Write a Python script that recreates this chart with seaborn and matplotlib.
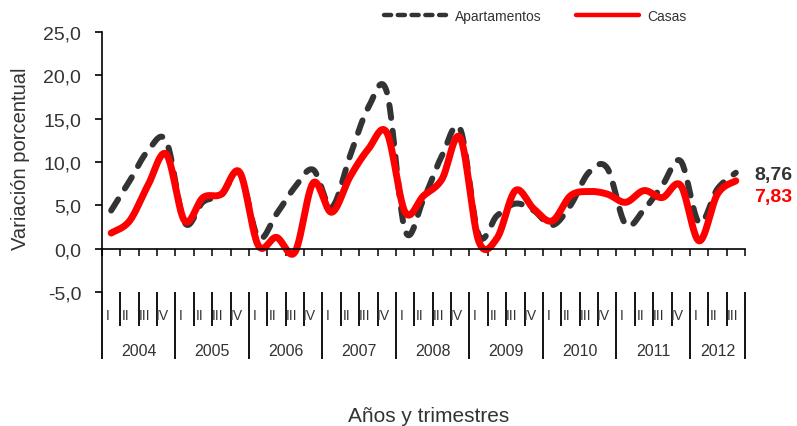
import numpy as np
import pandas as pd
import matplotlib
matplotlib.use("Agg")
import matplotlib.pyplot as plt
import matplotlib.transforms as mtransforms
from matplotlib.lines import Line2D
from matplotlib.ticker import FuncFormatter, FixedLocator
import seaborn as sns

# Quarterly variation (%) of prices, 2004-I to 2012-III
years = ["2004", "2005", "2006", "2007", "2008", "2009", "2010", "2011", "2012"]
quarters_per_year = [4, 4, 4, 4, 4, 4, 4, 4, 3]
quarter_names = ["I", "II", "III", "IV"]

apartamentos = [4.4, 7.8, 11.3, 12.4, 3.0, 5.4, 6.2, 8.7, 1.3, 4.0, 7.1, 9.1,
                4.8, 10.7, 16.3, 18.1, 2.1, 5.7, 10.7, 13.8, 1.6, 3.8, 5.2, 4.4,
                2.7, 5.0, 8.8, 9.3, 2.8, 4.5, 7.3, 10.1, 3.0, 6.9, 8.76]
casas = [1.8, 3.2, 7.3, 10.9, 3.2, 5.9, 6.3, 8.8, 0.4, 1.3, -0.4, 7.6,
         4.2, 8.3, 11.5, 13.4, 4.2, 6.1, 8.0, 12.8, 0.9, 1.2, 6.7, 4.6,
         3.2, 6.1, 6.6, 6.3, 5.35, 6.7, 5.9, 7.3, 0.9, 6.3, 7.83]

yticks = [-5, 0, 5, 10, 15, 20, 25]

DARK = "#333333"
RED = "#ff0000"


def smooth_curve(values, n=24):
    """Bezier smoothing through every point (spreadsheet-style smoothed line)."""
    P = np.column_stack([np.arange(len(values), dtype=float), np.asarray(values, float)])
    segs = []
    last = len(P) - 2
    for i in range(len(P) - 1):
        p0 = P[max(i - 1, 0)]
        p1 = P[i]
        p2 = P[i + 1]
        p3 = P[min(i + 2, len(P) - 1)]
        c1 = p1 + (p2 - p0) / 6.0
        c2 = p2 - (p3 - p1) / 6.0
        t = np.linspace(0, 1, n, endpoint=(i == last))[:, None]
        segs.append((1 - t) ** 3 * p1 + 3 * (1 - t) ** 2 * t * c1
                    + 3 * (1 - t) * t ** 2 * c2 + t ** 3 * p2)
    pts = np.vstack(segs)
    return pd.DataFrame({"x": pts[:, 0], "y": pts[:, 1]})


sns.set_theme(style="white")
plt.rcParams["font.family"] = ["Liberation Sans", "DejaVu Sans"]

fig = plt.figure(figsize=(7.97, 4.27), dpi=100)
ax = fig.add_axes([102 / 797, 1 - 293 / 427, 643 / 797, 260 / 427])

n = len(casas)
apt_df = smooth_curve(apartamentos)
cas_df = smooth_curve(casas)

sns.lineplot(data=apt_df, x="x", y="y", ax=ax, sort=False, estimator=None,
             color=DARK, linewidth=4.3, linestyle=(0, (2.2, 2.15)),
             dash_capstyle="round", solid_capstyle="round")
sns.lineplot(data=cas_df, x="x", y="y", ax=ax, sort=False, estimator=None,
             color=RED, linewidth=5.0, solid_capstyle="round",
             solid_joinstyle="round")

ax.set_xlim(-0.5, n - 0.5)
ax.set_ylim(-5, 25)

# Axes styling
for side in ["top", "right"]:
    ax.spines[side].set_visible(False)
ax.spines["left"].set_color("black")
ax.spines["left"].set_linewidth(1.2)
ax.spines["bottom"].set_position(("data", 0))
ax.spines["bottom"].set_color("black")
ax.spines["bottom"].set_linewidth(1.2)

ax.yaxis.set_major_locator(FixedLocator(yticks))
ax.yaxis.set_major_formatter(FuncFormatter(lambda v, p: f"{v:.1f}".replace(".", ",")))
ax.tick_params(axis="y", which="major", direction="out", length=5, width=1.2,
               color="black", left=True, labelsize=14, labelcolor="#333333", pad=10)

boundaries = np.arange(-0.5, n, 1.0)
ax.xaxis.set_major_locator(FixedLocator(boundaries))
ax.tick_params(axis="x", which="major", direction="out", length=5, width=1.1,
               color="black", bottom=True, labelbottom=False)
ax.grid(False)

# Two-level category axis below the plot area
trans = mtransforms.blended_transform_factory(ax.transData, ax.transAxes)
px = 1.0 / 260
starts = np.cumsum([0] + quarters_per_year)
year_edges = set(starts.tolist())
for b in range(n + 1):
    is_year = b in year_edges
    y_end = -67 * px if is_year else -34 * px
    ax.plot([b - 0.5, b - 0.5], [0, y_end], transform=trans, color="black",
            lw=1.3, clip_on=False, solid_capstyle="butt")

k = 0
for yi, (yr, nq) in enumerate(zip(years, quarters_per_year)):
    for q in range(nq):
        ax.text(k - 0.2, -23 * px, quarter_names[q], transform=trans,
                ha="center", va="center", fontsize=10, color="#333333")
        k += 1
    mid = (starts[yi] + starts[yi + 1]) / 2 - 0.5
    ax.text(mid, -59 * px, yr, transform=trans, ha="center", va="center",
            fontsize=11.5, color="#333333")

# Axis titles
ax.set_ylabel("Variación porcentual", fontsize=14.5, color="#333333")
ax.yaxis.label.set_va("center")
ax.yaxis.set_label_coords(-0.126, 0.517)
ax.set_xlabel("Años y trimestres", fontsize=15, color="#333333")
ax.xaxis.label.set_va("center")
ax.xaxis.set_label_coords(0.5086, -0.475)

# Last-value labels
ax.annotate(f"{apartamentos[-1]:.2f}".replace(".", ","), xy=(n - 1, apartamentos[-1]),
            xytext=(13.5, -1), textcoords="offset points", ha="left", va="center",
            fontsize=14, fontweight="bold", color=DARK, annotation_clip=False)
ax.annotate(f"{casas[-1]:.2f}".replace(".", ","), xy=(n - 1, casas[-1]),
            xytext=(13.5, -11), textcoords="offset points", ha="left", va="center",
            fontsize=14, fontweight="bold", color=RED, annotation_clip=False)

# Legend
handles = [
    Line2D([], [], color=DARK, lw=3.2, linestyle=(0, (1.6, 1.5)),
           dash_capstyle="round"),
    Line2D([], [], color=RED, lw=3.2, solid_capstyle="round"),
]
fig.legend(handles, ["Apartamentos", "Casas"], loc="center",
           bbox_to_anchor=(535 / 797, 1 - 17 / 427), ncol=2, frameon=False,
           fontsize=10, handlelength=4.5, handletextpad=0.6, columnspacing=2.5,
           labelcolor="#333333")

fig.savefig("out.png", dpi=100)
